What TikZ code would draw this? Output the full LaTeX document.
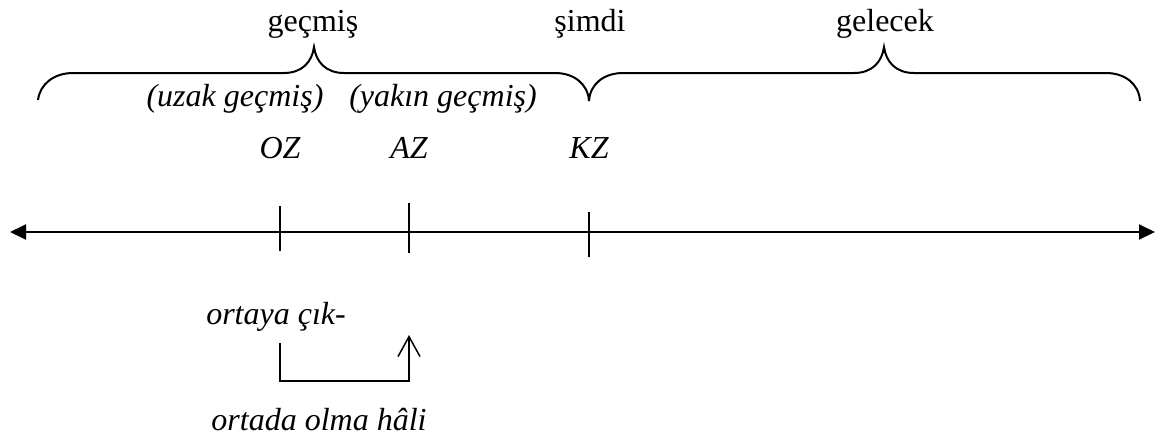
\documentclass[tikz,border=0pt]{standalone}
\usepackage{fontspec}
\setmainfont{Liberation Serif}
\usetikzlibrary{arrows.meta}

\begin{document}
\begin{tikzpicture}[x=0.5pt,y=-0.5pt,line width=1pt,
  font=\fontsize{16}{19}\selectfont,
  yazi/.style={anchor=base,inner sep=0pt},
  egik/.style={yazi,font=\fontsize{16}{19}\selectfont\itshape}]
  \useasboundingbox (0,0) rectangle (1166,441);

  % Zaman ekseni
  \coordinate (sol) at (10,232);
  \coordinate (sag) at (1155,232);
  \draw[{Triangle[length=8pt,width=7.5pt]}-{Triangle[length=8pt,width=7.5pt]}] (sol) -- (sag);

  % Zaman noktalari
  \foreach \ad/\x/\ust/\alt in {OZ/280/206/251, AZ/409/203/253, KZ/589/212/257} {
    \draw (\x,\ust) -- (\x,\alt);
    \node[egik] (\ad) at (\x,158) {\ad};
  }

  % Ust basliklar
  \node[yazi] (gecmis) at (313,31) {geçmiş};
  \node[yazi] (simdi) at (590,31) {şimdi};
  \node[yazi] (gelecek) at (885,31) {gelecek};
  \node[egik] (uzak) at (235,106) {(uzak geçmiş)};
  \node[egik] (yakin) at (443,106) {(yakın geçmiş)};

  % Parantezler
  \draw (38,100) .. controls (40,84) and (54,73) .. (73,73) -- (284,73)
    .. controls (302,73) and (312,62) .. (314,47)
    .. controls (316,62) and (326,73) .. (344,73) -- (555,73)
    .. controls (574,73) and (588,84) .. (589,101);
  \draw (589,101) .. controls (590,84) and (604,73) .. (623,73) -- (854,73)
    .. controls (872,73) and (882,62) .. (884,47)
    .. controls (886,62) and (896,73) .. (914,73) -- (1106,73)
    .. controls (1125,73) and (1139,84) .. (1140,101);

  % Ortaya cikma ve ortada olma
  \node[egik] (cik) at (276,324) {ortaya çık-};
  \node[egik] (olma) at (319,430) {ortada olma hâli};
  \coordinate (bas) at (280,343);
  \coordinate (uc) at (409,335);
  \draw[line width=0.75pt,-{Straight Barb[length=10pt,width=11pt]}] (bas) -- ++(0,38) -| (uc);
\end{tikzpicture}
\end{document}
